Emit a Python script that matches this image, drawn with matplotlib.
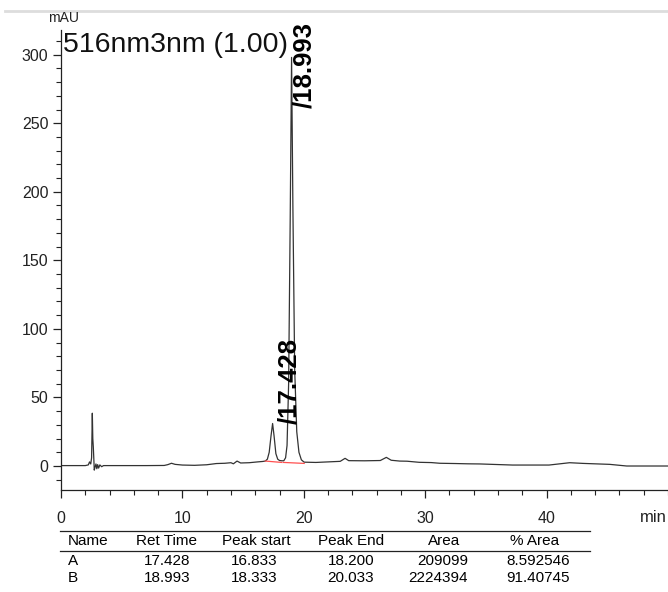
import matplotlib
matplotlib.use("Agg")
import matplotlib.pyplot as plt
from matplotlib.lines import Line2D
from matplotlib.ticker import MultipleLocator

plt.rcParams['font.family'] = ['Liberation Sans', 'DejaVu Sans']

# chromatogram trace (min, mAU)
t_min = [0.0, 1.0, 2.0, 2.25, 2.35, 2.45, 2.52, 2.58, 2.62, 2.66, 2.7, 2.74, 2.8, 2.88,
         2.95, 3.02, 3.1, 3.2, 3.35, 3.5, 5.0, 7.0, 8.5, 8.8, 9.1, 9.4, 10.0, 11.0,
         12.0, 12.8, 13.5, 14.0, 14.2, 14.5, 14.8, 15.5, 16.2, 16.6, 16.83,
         17.0, 17.15, 17.3, 17.43, 17.55, 17.7, 17.85, 18.0, 18.2,
         18.35, 18.5, 18.62, 18.75, 18.88, 18.993, 19.1, 19.25, 19.42, 19.6, 19.8, 20.03,
         21.0, 22.0, 23.0, 23.4, 23.7, 25.0, 26.3, 26.8, 27.2, 27.9, 28.5, 29.5,
         30.5, 31.2, 32.5, 33.5, 34.5, 35.5, 37.2, 40.2, 41.0, 41.9, 43.0, 45.2,
         46.6, 50.0]
signal = [0.3, 0.3, 0.3, 0.8, 3.0, 1.5, 6.0, 38.5, 20.0, 14.0, 6.0, -3.0, -1.0, 1.5,
          -2.0, 1.0, -1.5, 0.8, -0.5, 0.3, 0.3, 0.3, 0.4, 1.0, 2.0, 1.2, 0.7, 0.5,
          0.9, 1.8, 2.0, 2.4, 1.6, 3.6, 2.2, 2.4, 3.0, 3.3, 3.6,
          5.0, 10.0, 22.0, 31.0, 22.0, 9.0, 5.0, 4.0, 3.8,
          3.8, 6.0, 15.0, 60.0, 180.0, 298.0, 190.0, 70.0, 25.0, 10.0, 4.5, 2.8,
          2.6, 3.0, 3.4, 5.6, 3.9, 3.8, 4.0, 6.3, 4.2, 3.6, 3.5, 2.7,
          2.5, 2.0, 1.8, 1.6, 1.5, 1.2, 0.7, 0.7, 1.5, 2.4, 1.9, 1.2,
          0.0, 0.0]

# integration baselines (red)
base_a_t = [16.833, 18.200]
base_a_y = [3.6, 2.6]
base_b_t = [18.333, 20.033]
base_b_y = [2.6, 1.9]

peak_times = ["17.428", "18.993"]
label_x = [18.8, 20.0]
label_y = [31, 261]

col_names = ["Name", "Ret Time", "Peak start", "Peak End", "Area", "% Area"]
names = ["A", "B"]
ret_time = ["17.428", "18.993"]
peak_start = ["16.833", "18.333"]
peak_end = ["18.200", "20.033"]
area = ["209099", "2224394"]
pct_area = ["8.592546", "91.40745"]

W, H = 668, 592
fig = plt.figure(figsize=(W / 100, H / 100), dpi=100)
ax = fig.add_axes([61 / W, (H - 490) / H, (W - 61) / W, 460 / H])

ax.plot(t_min, signal, color='#333333', lw=0.9)
ax.plot(base_a_t, base_a_y, color='#ff5050', lw=0.9)
ax.plot(base_b_t, base_b_y, color='#ff5050', lw=0.9)

for s, x, y in zip(peak_times, label_x, label_y):
    ax.text(x, y, "/" + s, rotation=90, ha='center', va='bottom',
            fontsize=18.5, fontweight='bold', color='black')

ax.set_xlim(0, 50)
ax.set_ylim(-17.5, 318)
ax.xaxis.set_major_locator(MultipleLocator(10))
ax.xaxis.set_minor_locator(MultipleLocator(2))
ax.yaxis.set_major_locator(MultipleLocator(50))
ax.yaxis.set_minor_locator(MultipleLocator(10))
ax.tick_params(which='major', length=6, width=0.9, labelsize=11.5, colors='#222222', pad=3)
ax.tick_params(axis='x', which='major', pad=9)
ax.tick_params(which='minor', length=3.5, width=0.8, colors='#222222')
ax.set_xticks([0, 10, 20, 30, 40])
for sp in ['top', 'right']:
    ax.spines[sp].set_visible(False)
for sp in ['left', 'bottom']:
    ax.spines[sp].set_linewidth(0.9)
    ax.spines[sp].set_color('#222222')

ax.text(0.003, 0.967, "516nm3nm (1.00)", transform=ax.transAxes, fontsize=20.5,
        ha='left', va='center', color='#111111')
fig.text(48 / W, 1 - 18 / H, "mAU", fontsize=10, ha='left', va='center', color='#222222')
fig.text(640 / W, 1 - 517 / H, "min", fontsize=12, ha='left', va='center', color='#222222')

# header rule at top of page
fig.add_artist(Line2D([5 / W, 1.0], [1 - 11 / H, 1 - 11 / H], color='#dddddd', lw=2))

# peak table
for yy in [531, 551]:
    fig.add_artist(Line2D([60 / W, 590 / W], [1 - yy / H, 1 - yy / H], color='#222222', lw=0.9))

head_x = [68, 136, 222, 318, 428, 510]
for s, x in zip(col_names, head_x):
    fig.text(x / W, 1 - 541 / H, s, fontsize=11, ha='left', va='center')

for i, yy in enumerate([561, 578]):
    y = 1 - yy / H
    fig.text(68 / W, y, names[i], fontsize=11, ha='left', va='center')
    fig.text(167 / W, y, ret_time[i], fontsize=11, ha='center', va='center')
    fig.text(254 / W, y, peak_start[i], fontsize=11, ha='center', va='center')
    fig.text(351 / W, y, peak_end[i], fontsize=11, ha='center', va='center')
    fig.text(468 / W, y, area[i], fontsize=11, ha='right', va='center')
    fig.text(570 / W, y, pct_area[i], fontsize=11, ha='right', va='center')

fig.savefig("out.png", dpi=100)
